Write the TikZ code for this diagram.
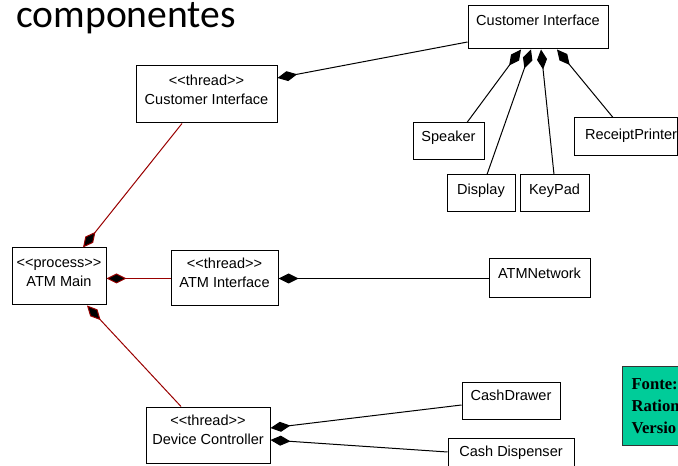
\documentclass[tikz,border=0pt]{standalone}
\usepackage{fontspec}
\setmainfont{Liberation Sans}
\newfontfamily\titlefont{Carlito}
\newfontfamily\srcfont{Liberation Serif}
\usetikzlibrary{arrows.meta,fit}
\definecolor{assoc}{RGB}{153,0,0}
\definecolor{srcgreen}{RGB}{0,204,153}
\newcommand\bt[2]{\raisebox{#1}[\height][\depth]{\begin{tabular}{@{}c@{}}#2\end{tabular}}}
\newcommand\stlt{\textless\kern0pt\textless\kern0pt}
\newcommand\stgt{\kern0pt\textgreater\kern0pt\textgreater}
\begin{document}
\begin{tikzpicture}[x=0.75pt,y=-0.75pt,
  box/.style={draw=black, line width=0.75pt, inner sep=0pt, font=\fontsize{10.9pt}{14.25pt}\selectfont},
  comp/.style={line width=0.75pt, -{Diamond[length=15pt,width=7.5pt,fill=black]}},
  compr/.style={comp, draw=assoc},
  srcbox/.style={draw=black!80, line width=0.75pt, fill=srcgreen, inner xsep=6.75pt, inner ysep=0pt,
    text width=60pt, align=left, minimum height=59.25pt, anchor=north west,
    font=\srcfont\bfseries\fontsize{12.5pt}{16.5pt}\selectfont},
]
\useasboundingbox (0,0) rectangle (678,466);
\clip (0,0) rectangle (678,466);

\node[anchor=base west, inner sep=0pt, font=\titlefont\fontsize{29.7pt}{30pt}\selectfont] (title) at (16,28) {componentes};

\node[box, fit={(136,66) (277,123)}] (tci) {\bt{-6.3pt}{\stlt thread\stgt\\Customer Interface}};
\node[box, fit={(468,6) (608,49)}] (ci) {\bt{-0.65pt}{Customer Interface}};
\node[box, fit={(413,123) (484,160)}] (spk) {\bt{-2.15pt}{Speaker}};
\node[box, fit={(447,175) (515,212)}] (disp) {\bt{-2.95pt}{Display}};
\node[box, fit={(520,175) (589,212)}] (key) {\bt{-2.95pt}{KeyPad}};
\node[box, fit={(574,118) (677,156)}] (rcpt) {\bt{-3.7pt}{\hspace*{8.25pt}ReceiptPrinter}};
\node[box, fit={(12,248) (106,305)}] (main) {\bt{-5.9pt}{\stlt process\stgt\\ATM Main}};
\node[box, fit={(171,251) (278,306)}] (atmi) {\bt{-5.55pt}{\stlt thread\stgt\\ATM Interface}};
\node[box, fit={(489,259) (590,298)}] (net) {\bt{-2.15pt}{ATMNetwork}};
\node[box, fit={(146,407) (270,463)}] (dc) {\bt{-5.9pt}{\stlt thread\stgt\\Device Controller}};
\node[box, fit={(462,383) (560,419)}] (drw) {\bt{-1.8pt}{CashDrawer}};
\node[box, fit={(448,438) (574,474)}] (dsp) {\bt{-2.55pt}{Cash Dispenser}};

\node[srcbox] (src) at (622,366) {Fonte:\\Ration\\Versio};

\draw[comp] (ci.west |- 0,42) -- (tci.east |- 0,78);
\draw[comp] (467,0 |- spk.north) -- (521,0 |- ci.south);
\draw[comp] (487,0 |- disp.north) -- (531,0 |- ci.south);
\draw[comp] (554,0 |- key.north) -- (541,0 |- ci.south);
\draw[comp] (613,0 |- rcpt.north) -- (557,0 |- ci.south);
\draw[compr] (182,0 |- tci.south) -- (83,0 |- main.north);
\draw[compr] (atmi.west) -- (main.east |- atmi.west);
\draw[compr] (181,0 |- dc.north) -- (87,0 |- main.south);
\draw[comp] (net.west |- atmi.east) -- (atmi.east);
\draw[comp] (drw.west |- 0,405) -- (dc.east |- 0,428);
\draw[comp] (dsp.west |- 0,452) -- (dc.east |- 0,440);
\end{tikzpicture}
\end{document}
